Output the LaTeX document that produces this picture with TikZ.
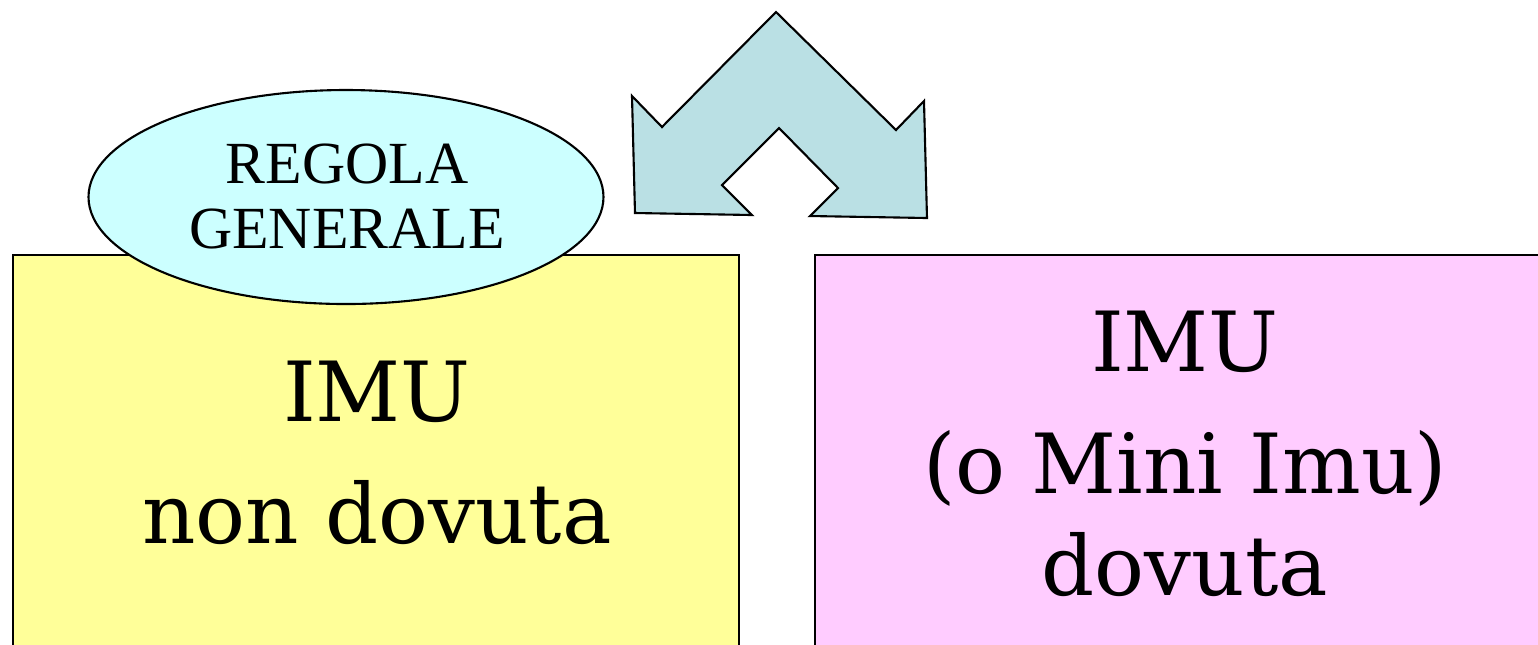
\documentclass[tikz,border=0pt]{standalone}
\usepackage{fontspec}
\setmainfont{DejaVu Serif}
\newfontfamily\ovalfont{Liberation Serif}
\usepackage{tikz}
\definecolor{boxyellow}{RGB}{255,255,153}
\definecolor{boxpink}{RGB}{255,204,255}
\definecolor{ovalcyan}{RGB}{204,255,255}
\definecolor{arrowblue}{RGB}{186,224,228}

\begin{document}
\begin{tikzpicture}[x=0.01cm,y=-0.01cm,
    bigtext/.style={inner sep=0pt,anchor=base,font=\fontsize{23.6}{28}\selectfont},
    ovaltext/.style={inner sep=0pt,anchor=base,font=\ovalfont\fontsize{17}{20}\selectfont},
    outline/.style={draw=black,line width=0.6pt}]
    \clip (0,0) rectangle (1538,644);
    \fill [white] (0,0) rectangle (1538,644);
    % the two boxes
    \draw [outline,fill=boxyellow] (13,255) rectangle (739,700);
    \draw [outline,fill=boxpink] (815,255) rectangle (1560,700);
    \node [bigtext] (imuno) at (377,421) {IMU};
    \node [bigtext] (nondovuta) at (377,543) {non dovuta};
    \node [bigtext] (imusi) at (1185,371) {IMU};
    \node [bigtext] (miniimu) at (1185,493) {(o Mini Imu)};
    \node [bigtext] (dovuta) at (1185,595) {dovuta};
    % the oval
    \draw [outline,fill=ovalcyan] (346,197) ellipse (257.5 and 107);
    \node [ovaltext] (regola) at (347,183) {REGOLA};
    \node [ovaltext] (generale) at (347,248) {GENERALE};
    % the split arrow
    \draw [outline,fill=arrowblue,line join=miter]
        (776,12) -- (896,130) -- (924,101) -- (927,218) -- (810,216)
        -- (838,188) -- (779,128) -- (722,185) -- (752,215) -- (635,213)
        -- (632,96) -- (662,127) -- cycle;
\end{tikzpicture}
\end{document}
